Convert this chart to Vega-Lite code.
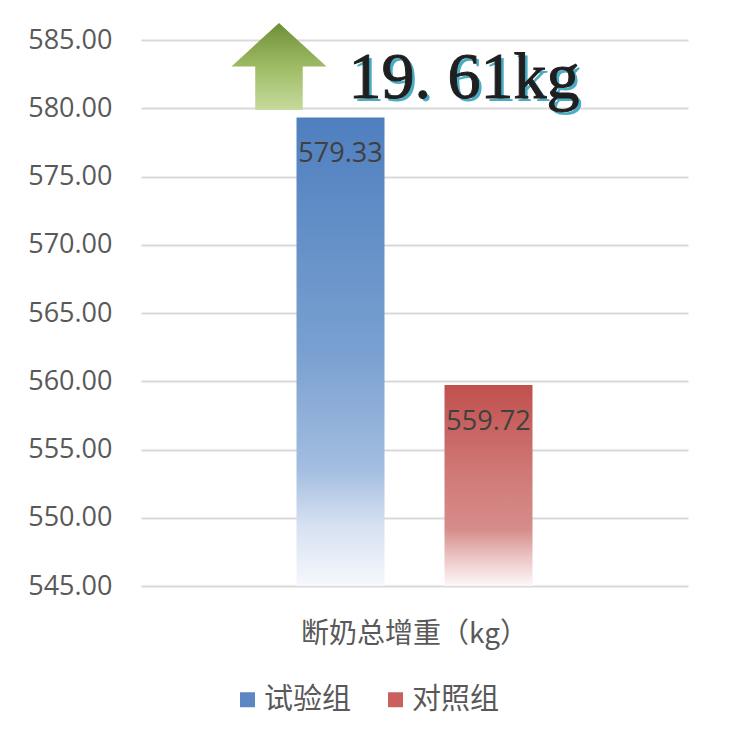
{
  "$schema": "https://vega.github.io/schema/vega-lite/v6.json",
  "autosize": {"type": "none"},
  "padding": {"left": 141, "top": 40, "right": 41, "bottom": 167},
  "width": 547,
  "height": 546,
  "background": "white",
  "datasets": {
    "gain": [
      {"item": "断奶总增重（kg）", "group": "试验组", "value": 579.33},
      {"item": "断奶总增重（kg）", "group": "对照组", "value": 559.72}
    ],
    "note": [
      {"item": "断奶总增重（kg）", "label": "19. 61kg", "textY": 580.75, "arrowY": 583.06}
    ]
  },
  "encoding": {
    "x": {
      "field": "item",
      "type": "nominal",
      "title": null,
      "scale": {"paddingInner": 0, "paddingOuter": 0.659},
      "axis": {
        "labelFontSize": 28,
        "labelColor": "#595959",
        "labelFont": "Noto Sans CJK SC",
        "labelPadding": 34,
        "labelLimit": 0,
        "labelAngle": 0,
        "domain": false,
        "ticks": false,
        "grid": false
      }
    }
  },
  "layer": [
    {
      "data": {"name": "gain"},
      "mark": {"type": "bar", "opacity": 0},
      "encoding": {
        "xOffset": {
          "field": "group",
          "type": "nominal",
          "scale": {"domain": ["试验组", "对照组"], "paddingInner": 0.4054, "paddingOuter": 0}
        },
        "y": {
          "field": "value",
          "type": "quantitative",
          "title": null,
          "scale": {"domain": [545, 585], "zero": false, "nice": false},
          "axis": {
            "values": [545, 550, 555, 560, 565, 570, 575, 580, 585],
            "format": ".2f",
            "labelFontSize": 27,
            "labelColor": "#595959",
            "labelFont": "Open Sans",
            "labelPadding": 29,
            "domain": false,
            "ticks": false,
            "grid": true,
            "gridColor": "#d9d9d9",
            "gridWidth": 2
          }
        },
        "y2": {"datum": 545},
        "color": {
          "field": "group",
          "type": "nominal",
          "scale": {"domain": ["试验组", "对照组"], "range": ["#5b87c4", "#c9605d"]},
          "legend": {
            "title": null,
            "orient": "none",
            "legendX": 92,
            "legendY": 645,
            "direction": "horizontal",
            "symbolType": "square",
            "symbolSize": 225,
            "symbolOpacity": 1,
            "labelFontSize": 29,
            "labelColor": "#595959",
            "labelFont": "Noto Sans CJK SC",
            "labelOffset": 2,
            "columnPadding": 29
          }
        }
      }
    },
    {
      "data": {"name": "gain"},
      "mark": {"type": "bar"},
      "encoding": {
        "xOffset": {"field": "group", "type": "nominal"},
        "y": {"field": "value", "type": "quantitative"},
        "y2": {"datum": 545},
        "fill": {
          "condition": {
            "test": "datum.group === '试验组'",
            "value": {
              "gradient": "linear", "x1": 0, "y1": 0, "x2": 0, "y2": 1,
              "stops": [
                {"offset": 0, "color": "#4f7fbf"},
                {"offset": 0.5, "color": "#79a0d0"},
                {"offset": 0.75, "color": "#a3bde0"},
                {"offset": 0.87, "color": "#d6e1f1"},
                {"offset": 1, "color": "#f6f8fc"}
              ]
            }
          },
          "value": {
            "gradient": "linear", "x1": 0, "y1": 0, "x2": 0, "y2": 1,
            "stops": [
              {"offset": 0, "color": "#c0504d"},
              {"offset": 0.45, "color": "#d07a78"},
              {"offset": 0.72, "color": "#d68d8b"},
              {"offset": 0.86, "color": "#ecc6c5"},
              {"offset": 1, "color": "#fdf8f8"}
            ]
          }
        }
      }
    },
    {
      "data": {"name": "gain"},
      "mark": {"type": "text", "baseline": "top", "dy": 24, "fontSize": 27, "font": "Open Sans", "color": "#404040"},
      "encoding": {
        "xOffset": {"field": "group", "type": "nominal"},
        "y": {"field": "value", "type": "quantitative"},
        "text": {"field": "value", "type": "quantitative", "format": ".2f"}
      }
    },
    {
      "data": {"name": "note"},
      "mark": {
        "type": "point",
        "filled": true,
        "opacity": 1,
        "strokeWidth": 0,
        "size": 9025,
        "shape": "M-2.853,-0.916 L-1.853,0 L-2.353,0 L-2.353,0.916 L-3.353,0.916 L-3.353,0 L-3.853,0 Z",
        "fill": {
          "gradient": "linear", "x1": 0, "y1": 0, "x2": 0, "y2": 1,
          "stops": [
            {"offset": 0, "color": "#6f8f37"},
            {"offset": 0.5, "color": "#9dbb64"},
            {"offset": 1, "color": "#c6da9c"}
          ]
        }
      },
      "encoding": {
        "y": {"field": "arrowY", "type": "quantitative"}
      }
    },
    {
      "data": {"name": "note"},
      "mark": {"type": "text", "align": "left", "baseline": "alphabetic", "dx": -63, "dy": 3, "fontSize": 66, "font": "Liberation Serif", "color": "#4bacc6"},
      "encoding": {
        "y": {"field": "textY", "type": "quantitative"},
        "text": {"field": "label"}
      }
    },
    {
      "data": {"name": "note"},
      "mark": {"type": "text", "align": "left", "baseline": "alphabetic", "dx": -66, "fontSize": 66, "font": "Liberation Serif", "color": "#1f1f1f", "stroke": "#1f1f1f", "strokeWidth": 1},
      "encoding": {
        "y": {"field": "textY", "type": "quantitative"},
        "text": {"field": "label"}
      }
    }
  ],
  "config": {
    "view": {"stroke": null}
  }
}
